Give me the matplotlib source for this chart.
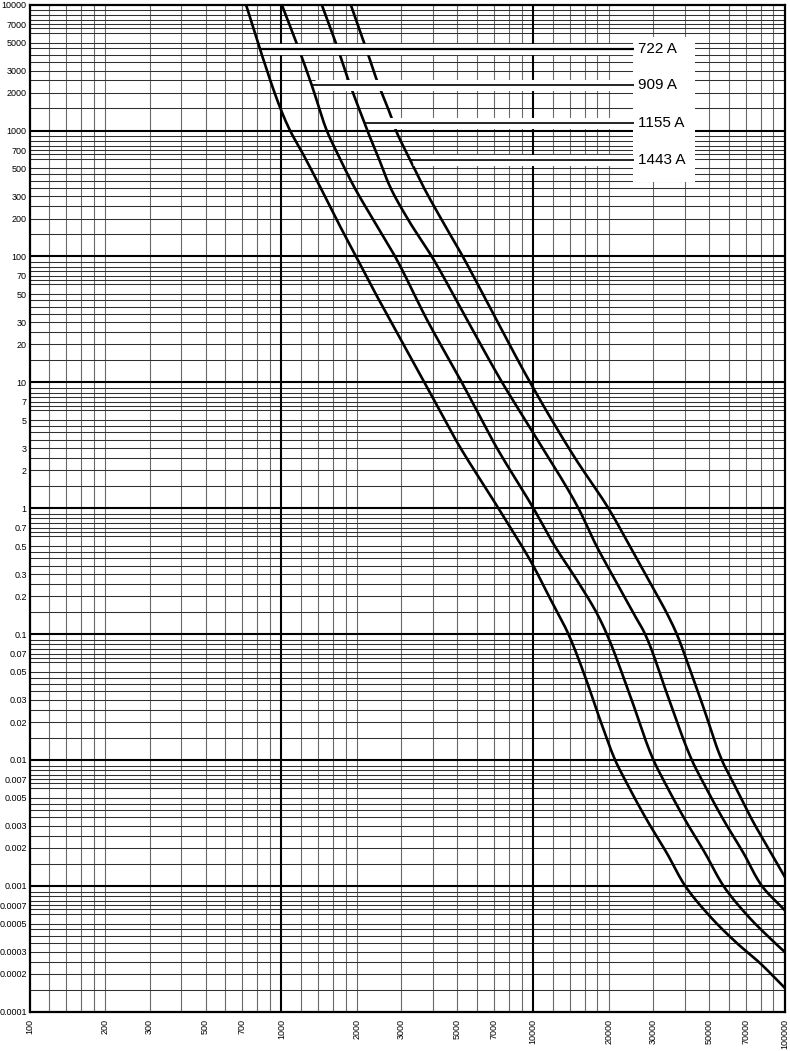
import numpy as np
import matplotlib
matplotlib.use('Agg')
import matplotlib.pyplot as plt
from matplotlib.patches import Rectangle
from matplotlib.ticker import NullLocator

plt.rcParams['font.family'] = ['Liberation Sans', 'DejaVu Sans']

# ---- time-current curves (current in A, time in s) ----
i_722 = [724, 823, 997, 1083, 1215, 1425, 1660, 1980, 2286, 2702, 3194, 3698, 4242, 4973,
         7274, 9963, 11560, 13800, 16070, 18440, 21150, 23530, 28270, 33940, 40120,
         50440, 64360, 79610, 100000]
t_722 = [10000, 4424, 1458, 1000, 660, 358, 195, 100, 57.6, 31.3, 17.0, 10, 6.04, 3.38,
         1, 0.3545, 0.199, 0.1, 0.046, 0.0208, 0.01, 0.00654, 0.00334, 0.00182, 0.001,
         0.00057, 0.000351, 0.000243, 0.000154]

i_909 = [1004, 1151, 1320, 1515, 1669, 1944, 2320, 2829, 3791, 5205, 7123, 10020, 12220,
         14900, 17890, 19610, 23820, 30020, 33410, 40120, 48160, 56930, 71540, 91340, 100000]
t_909 = [10000, 4936, 2302, 1000, 660, 358, 195, 100, 31.3, 10, 3.09, 1, 0.4955,
         0.2695, 0.1466, 0.1, 0.036, 0.01, 0.00654, 0.00334, 0.00182, 0.001, 0.00057,
         0.000351, 0.000297]

i_1155 = [1447, 1649, 1845, 2136, 2195, 2393, 2702, 3194, 3957, 5465, 7523, 10020, 15120,
          17890, 21150, 25000, 27820, 33940, 42640, 47470, 57000, 68420, 80900, 100000]
t_1155 = [10000, 4936, 2523, 1155, 1000, 660, 358, 195, 100, 31.3, 10, 3.94, 1,
          0.4955, 0.2695, 0.1466, 0.1, 0.0339, 0.01, 0.00654, 0.00334, 0.00182, 0.001,
          0.000637]

i_1443 = [1886, 2136, 2393, 2744, 2829, 3148, 3244, 3664, 4335, 5253, 7150, 9720, 14540,
          19890, 24260, 28680, 33940, 37180, 41520, 47300, 56100, 62440, 74010, 88060, 100000]
t_1443 = [10000, 4936, 2523, 1252, 1043, 660, 584, 358, 195, 100, 31.3, 10, 2.57,
          1, 0.4955, 0.2695, 0.1466, 0.1, 0.0552, 0.0266, 0.01, 0.00654, 0.00334, 0.00182,
          0.00117]

curves = [(i_722, t_722), (i_909, t_909), (i_1155, t_1155), (i_1443, t_1443)]

# labels and their leader lines
ratings = ['722 A', '909 A', '1155 A', '1443 A']
leader_t = [4424, 2302, 1155, 584]
leader_i = [823, 1320, 2136, 3244]
leader_end = 25170
label_i = 26100
box_i = (24950, 43970)
box_t = (390, 5540)

x_ticks = [100, 200, 300, 500, 700, 1000, 2000, 3000, 5000, 7000,
           10000, 20000, 30000, 50000, 70000, 100000]
x_labels = ['100', '200', '300', '500', '700', '1000', '2000', '3000', '5000', '7000',
            '10000', '20000', '30000', '50000', '70000', '100000']
y_ticks = [10000, 7000, 5000, 3000, 2000, 1000, 700, 500, 300, 200, 100, 70, 50, 30, 20,
           10, 7, 5, 3, 2, 1, 0.7, 0.5, 0.3, 0.2, 0.1, 0.07, 0.05, 0.03, 0.02, 0.01,
           0.007, 0.005, 0.003, 0.002, 0.001, 0.0007, 0.0005, 0.0003, 0.0002, 0.0001]
y_labels = ['10000', '7000', '5000', '3000', '2000', '1000', '700', '500', '300', '200',
            '100', '70', '50', '30', '20', '10', '7', '5', '3', '2', '1', '0.7', '0.5',
            '0.3', '0.2', '0.1', '0.07', '0.05', '0.03', '0.02', '0.01', '0.007', '0.005',
            '0.003', '0.002', '0.001', '0.0007', '0.0005', '0.0003', '0.0002', '0.0001']

# grid subdivisions of the printed log paper
x_sub = [1.2, 1.4, 1.6, 1.8, 2, 3, 4, 5, 6, 7, 8, 9]
y_sub = [1.5, 2, 2.5, 3, 3.5, 4, 4.5, 5, 6, 6.5, 7, 7.6, 8.3, 9]


def smooth_curve(cur, tim, n=500):
    # monotone cubic (pchip) through the read points, in log-log space
    u = -np.log10(np.asarray(tim, float))
    v = np.log10(np.asarray(cur, float))
    h = np.diff(u)
    d = np.diff(v) / h
    m = np.zeros_like(v)
    m[0], m[-1] = d[0], d[-1]
    for k in range(1, len(v) - 1):
        if d[k - 1] * d[k] <= 0:
            m[k] = 0
        else:
            w1 = 2 * h[k] + h[k - 1]
            w2 = h[k] + 2 * h[k - 1]
            m[k] = (w1 + w2) / (w1 / d[k - 1] + w2 / d[k])
    uu = np.linspace(u[0], u[-1], n)
    idx = np.clip(np.searchsorted(u, uu, side='right') - 1, 0, len(h) - 1)
    s = (uu - u[idx]) / h[idx]
    vv = ((2 * s**3 - 3 * s**2 + 1) * v[idx] + (s**3 - 2 * s**2 + s) * h[idx] * m[idx]
          + (-2 * s**3 + 3 * s**2) * v[idx + 1] + (s**3 - s**2) * h[idx] * m[idx + 1])
    return 10**vv, 10**(-uu)


W, H = 790, 1051
fig = plt.figure(figsize=(W / 100, H / 100), dpi=100)
ax = fig.add_axes([29.5 / W, 1 - 1011.7 / H, (785 - 29.5) / W, (1011.7 - 4.7) / H])
ax.set_xscale('log')
ax.set_yscale('log')
ax.set_xlim(100, 100000)
ax.set_ylim(0.0001, 10000)

# grid
for d in [100, 1000, 10000]:
    for m in x_sub:
        ax.axvline(d * m, color='#6a6a6a', lw=0.8, zorder=1)
for d in [1e-4, 1e-3, 1e-2, 1e-1, 1, 10, 100, 1000]:
    for m in y_sub:
        ax.axhline(d * m, color='#303030', lw=0.75, zorder=1)
for v in [1000, 10000]:
    ax.axvline(v, color='k', lw=1.5, zorder=1.5)
for v in [1e-3, 1e-2, 1e-1, 1, 10, 100, 1000]:
    ax.axhline(v, color='k', lw=1.5, zorder=1.5)

# white panel behind the labels
ax.add_patch(Rectangle((box_i[0], box_t[0]), box_i[1] - box_i[0], box_t[1] - box_t[0],
                       facecolor='white', edgecolor='none', zorder=2))

for (ci, ct) in curves:
    xs, ys = smooth_curve(ci, ct)
    ax.plot(xs, ys, color='k', lw=1.9, zorder=3, solid_joinstyle='round')

for k in range(4):
    # white halo that breaks grid and other curves
    ax.plot([leader_i[k] * 1.03, leader_end], [leader_t[k], leader_t[k]], color='white',
            lw=8, solid_capstyle='butt', zorder=3.5)
    ax.plot([leader_i[k], leader_end], [leader_t[k], leader_t[k]], color='k',
            lw=1.6 if k == 0 else 1.2, solid_capstyle='butt', zorder=4)
    ax.text(label_i, leader_t[k], ratings[k], fontsize=11, va='center', ha='left', zorder=5)

ax.xaxis.set_minor_locator(NullLocator())
ax.yaxis.set_minor_locator(NullLocator())
ax.set_xticks(x_ticks)
ax.set_xticklabels(x_labels, rotation=90, fontsize=6.5)
ax.set_yticks(y_ticks)
ax.set_yticklabels(y_labels, fontsize=6.5)
ax.tick_params(axis='x', length=0, pad=5)
ax.tick_params(axis='y', length=0, pad=2)

for s in ax.spines.values():
    s.set_linewidth(1.6)
    s.set_zorder(6)

fig.savefig('out.png', dpi=100)
